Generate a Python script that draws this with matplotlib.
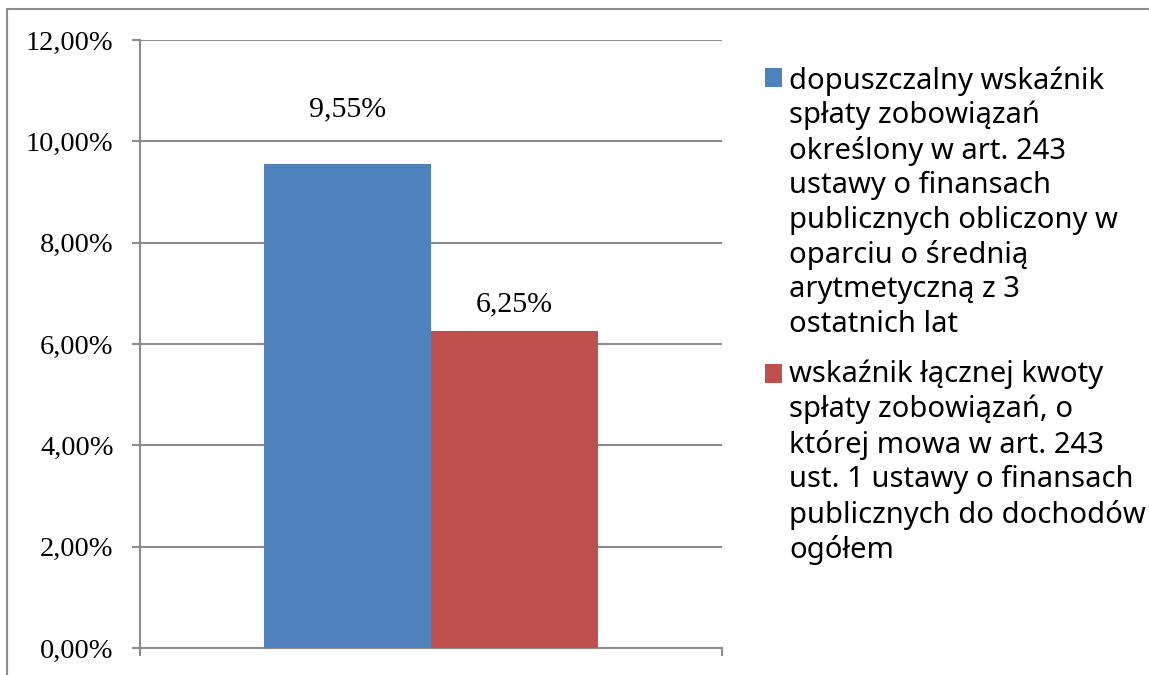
import matplotlib
matplotlib.use("Agg")
import matplotlib.pyplot as plt
from matplotlib.patches import Rectangle, Patch
from matplotlib.legend_handler import HandlerBase
from matplotlib.ticker import FuncFormatter

series_labels = [
    "dopuszczalny wskaźnik\nspłaty zobowiązań\nokreślony w art. 243\nustawy o finansach\npublicznych obliczony w\noparciu o średnią\narytmetyczną z 3\nostatnich lat",
    "wskaźnik łącznej kwoty\nspłaty zobowiązań, o\nktórej mowa w art. 243\nust. 1 ustawy o finansach\npublicznych do dochodów\nogółem",
]
values = [9.55, 6.25]
value_labels = ["9,55%", "6,25%"]
colors = ["#4F81BD", "#C0504D"]
yticks = [0, 2, 4, 6, 8, 10, 12]

# layout (label distance above bar top, in axis units)
label_pad = [1.09, 0.53]

W, H, DPI = 1149, 675, 100
fig = plt.figure(figsize=(W / DPI, H / DPI), dpi=DPI)
ax = fig.add_axes([140 / W, 1 - 648 / H, (722 - 140) / W, (648 - 40) / H])

grid_c = "#8C8C8C"
bw = 0.287
offsets = [-bw / 2, bw / 2]
handles = []
for v, off, c, lab, vl, lp in zip(values, offsets, colors, series_labels, value_labels, label_pad):
    ax.bar(off, v, width=bw, color=c, zorder=3)
    ax.text(off, v + lp, vl, ha="center", va="center",
            fontsize=21.5, family="Liberation Serif")
    handles.append(Patch(facecolor=c, label=lab))

ax.set_xlim(-0.5, 0.5)
ax.set_ylim(0, 12)
ax.set_yticks(yticks)
ax.yaxis.set_major_formatter(FuncFormatter(lambda v, p: f"{v:.2f}%".replace(".", ",")))
ax.set_xticks([-0.5, 0.5])
ax.set_xticklabels(["", ""])
ax.grid(axis="y", color=grid_c, lw=1.5, zorder=0)
for s in ["top", "right"]:
    ax.spines[s].set_visible(False)
for s in ["left", "bottom"]:
    ax.spines[s].set_color(grid_c)
    ax.spines[s].set_linewidth(1.5)
ax.tick_params(axis="y", length=6, width=1.5, color=grid_c, pad=13, labelsize=20.5)
ax.tick_params(axis="x", length=6, width=1.5, color=grid_c, direction="out")
for t in ax.get_yticklabels():
    t.set_family("Liberation Serif")

LEG_FS = 21
TEXT_LS = 1.24
LINE_SP = 1.19 * TEXT_LS / 1.2


class TopSquareHandler(HandlerBase):
    def create_artists(self, legend, orig_handle, xdescent, ydescent, width, height,
                       fontsize, trans):
        n = orig_handle.get_label().count("\n")
        shift = n * fontsize * LINE_SP / 2.0
        r = Rectangle((-xdescent, -ydescent + shift), width, height,
                      facecolor=orig_handle.get_facecolor(), edgecolor="none",
                      transform=trans)
        return [r]


leg = fig.legend(handles=handles, loc="upper left", bbox_to_anchor=(765 / W, 1 - 66 / H),
                 frameon=False, prop={"family": "Noto Sans", "size": LEG_FS},
                 handlelength=0.58, handleheight=0.58, handletextpad=0.24,
                 labelspacing=0.72, borderaxespad=0, borderpad=0,
                 handler_map={Patch: TopSquareHandler()})
for t in leg.get_texts():
    t.set_linespacing(TEXT_LS)

# outer chart border
fig.add_artist(Rectangle((7 / W, -0.1), 1.2, 1 - 9 / H + 0.1, transform=fig.transFigure,
                         fill=False, edgecolor=grid_c, lw=1.5))

fig.savefig("out.png", dpi=DPI)
